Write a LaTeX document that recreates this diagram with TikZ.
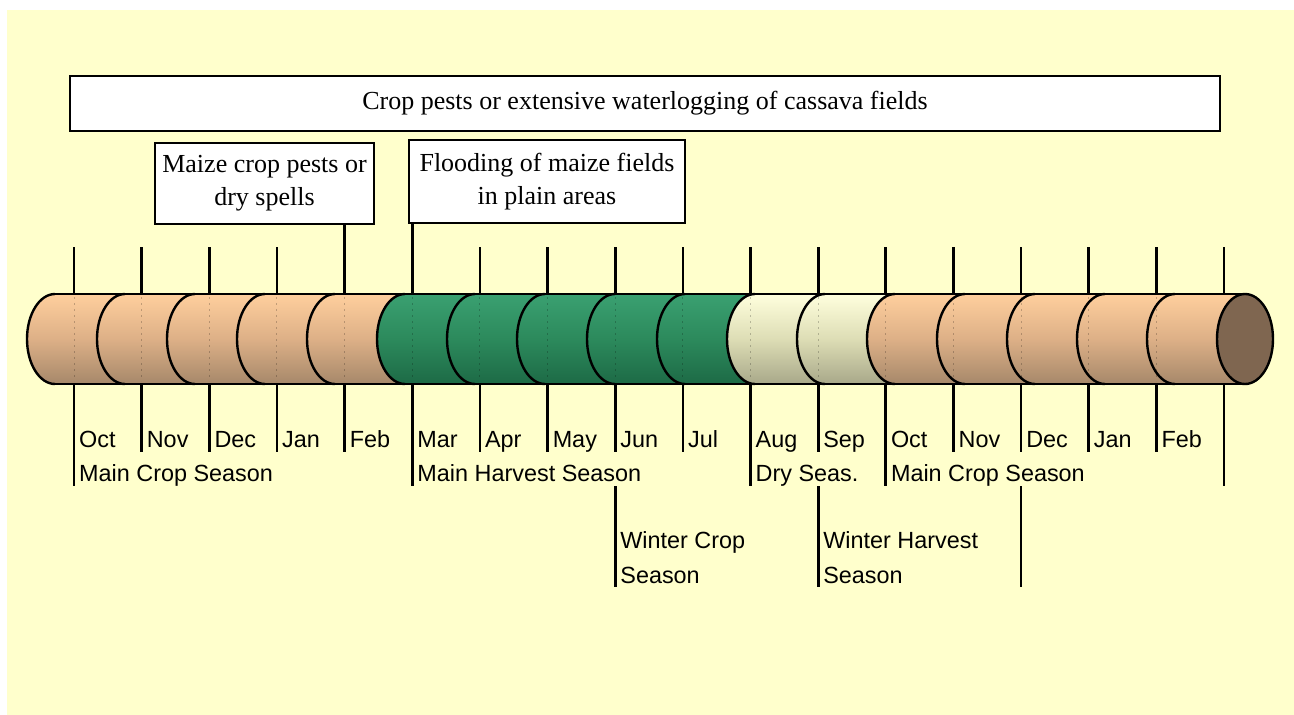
\documentclass[tikz,border=0pt]{standalone}
\usepackage{fontspec}
\setmainfont{Liberation Serif}
\setsansfont{Liberation Sans}
\definecolor{bgyellow}{HTML}{FFFFCC}
\definecolor{peachtop}{HTML}{FFCF9D}
\definecolor{peachmid}{HTML}{DDB087}
\definecolor{peachbot}{HTML}{A6886A}
\definecolor{greentop}{HTML}{3AA071}
\definecolor{greenmid}{HTML}{2C8A5C}
\definecolor{greenbot}{HTML}{1D6A46}
\definecolor{creamtop}{HTML}{FFFFDD}
\definecolor{creammid}{HTML}{DDDDB5}
\definecolor{creambot}{HTML}{A8A889}
\definecolor{capbrown}{HTML}{7F6650}
\begin{document}
\begin{tikzpicture}[x=1pt,y=-1pt,
  ticklinestyle/.style={line width=2.7pt},
  outlinestyle/.style={line width=2.4pt},
  faintdash/.style={line width=1pt, black, opacity=0.22, dash pattern=on 2pt off 4pt},
  mlabel/.style={font=\sffamily\fontsize{23.4}{28}\selectfont, anchor=base west, inner sep=0pt},
  evbox/.style={draw, line width=1.8pt, fill=white, font=\fontsize{26}{33}\selectfont, align=center, inner sep=0pt},
  peachseg/.style={top color=peachtop, bottom color=peachbot, middle color=peachmid},
  greenseg/.style={top color=greentop, bottom color=greenbot, middle color=greenmid},
  creamseg/.style={top color=creamtop, bottom color=creambot, middle color=creammid}]
\useasboundingbox (0,0) rectangle (1294,715);
\fill[bgyellow] (7,10) rectangle (1294,715);

% event boxes
\node[evbox, minimum width=1150pt, minimum height=55pt] (cassava) at (645,103.5)
  {Crop pests or extensive waterlogging of cassava fields};
\node[evbox, minimum width=219pt, minimum height=81pt] (maizepests) at (264.5,183.5)
  {Maize crop pests or\\dry spells};
\node[evbox, minimum width=276pt, minimum height=83pt] (flooding) at (547,181.5)
  {Flooding of maize fields\\in plain areas};

% tick coordinates
\foreach \i in {0,...,17}{
  \pgfmathsetmacro{\tx}{74+67.65*\i}
  \coordinate (ut\i) at (\tx,247);
  \coordinate (ct\i) at (\tx,294);
  \coordinate (cb\i) at (\tx,384);
  \coordinate (sb\i) at (\tx,452);
  \coordinate (lb\i) at (\tx,486);
  \coordinate (wb\i) at (\tx,587);
}

% upper ticks
\foreach \i in {0,1,2,3,6,7,8,9,10,11,12,13,14,15,16,17}{
  \draw[ticklinestyle] (ut\i) -- (ct\i);
}
\draw[ticklinestyle] (maizepests.south -| ct4) -- (ct4);
\draw[ticklinestyle] (flooding.south -| ct5) -- (ct5);

% cylinder segments
\foreach \k/\sty in {0/peachseg,1/peachseg,2/peachseg,3/peachseg,4/peachseg,
                     5/greenseg,6/greenseg,7/greenseg,8/greenseg,9/greenseg,
                     10/creamseg,11/creamseg,
                     12/peachseg,13/peachseg,14/peachseg,15/peachseg,16/peachseg}{
  \pgfmathsetmacro{\cxa}{55+70*\k}
  \pgfmathsetmacro{\cxb}{55+70*(\k+1)}
  \shade[\sty] (\cxa,294) arc[start angle=270, end angle=90, x radius=28, y radius=45]
     -- (\cxb,384) arc[start angle=90, end angle=270, x radius=28, y radius=45] -- cycle;
}
% faint dashed lines behind
\foreach \i in {0,...,16}{
  \draw[faintdash] ([yshift=-3pt]ct\i) -- ([yshift=3pt]cb\i);
}
% outlines
\draw[outlinestyle] (55,294) -- (1245,294);
\draw[outlinestyle] (55,384) -- (1245,384);
\foreach \k in {0,...,16}{
  \pgfmathsetmacro{\cxa}{55+70*\k}
  \draw[outlinestyle] (\cxa,294) arc[start angle=270, end angle=90, x radius=28, y radius=45];
}
\draw[outlinestyle, fill=capbrown] (1245,339) ellipse[x radius=28, y radius=45];

% lower ticks
\foreach \i in {1,2,3,4,6,7,8,9,11,13,14,15,16}{
  \draw[ticklinestyle] (cb\i) -- (sb\i);
}
\foreach \i in {0,5,10,12,17}{
  \draw[ticklinestyle] (cb\i) -- (lb\i);
}
\foreach \i in {8,11,14}{
  \draw[ticklinestyle] (lb\i) -- (wb\i);
}

% month labels
\foreach \i/\m in {0/Oct,1/Nov,2/Dec,3/Jan,4/Feb,5/Mar,6/Apr,7/May,8/Jun,9/Jul,
                   10/Aug,11/Sep,12/Oct,13/Nov,14/Dec,15/Jan,16/Feb}{
  \node[mlabel] (m\i) at ([xshift=5pt]ct\i |- 0,447) {\m};
}
\node[mlabel] (s0) at ([xshift=5pt]ct0 |- 0,481) {Main Crop Season};
\node[mlabel] (s5) at ([xshift=5pt]ct5 |- 0,481) {Main Harvest Season};
\node[mlabel] (s10) at ([xshift=5pt]ct10 |- 0,481) {Dry Seas.};
\node[mlabel] (s12) at ([xshift=5pt]ct12 |- 0,481) {Main Crop Season};
\node[mlabel] (w8a) at ([xshift=5pt]ct8 |- 0,548) {Winter Crop};
\node[mlabel] (w8b) at ([xshift=5pt]ct8 |- 0,583) {Season};
\node[mlabel] (w11a) at ([xshift=5pt]ct11 |- 0,548) {Winter Harvest};
\node[mlabel] (w11b) at ([xshift=5pt]ct11 |- 0,583) {Season};
\end{tikzpicture}
\end{document}
